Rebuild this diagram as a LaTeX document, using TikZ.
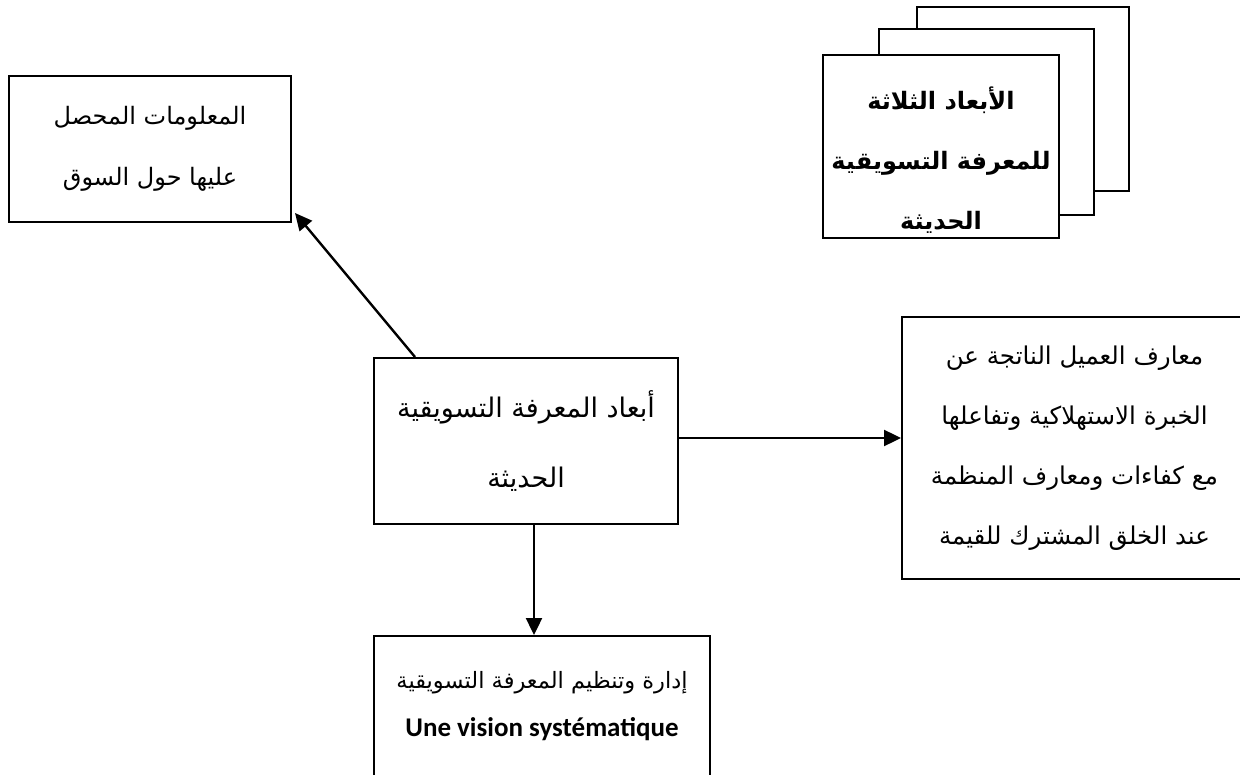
\documentclass[tikz,border=0pt]{standalone}
\usepackage{fontspec}
\setmainfont{Carlito}
\newfontfamily\arabicfont[Script=Arabic]{DejaVu Sans}
\TeXXeTstate=1
\usetikzlibrary{arrows.meta,calc}
% one right-to-left line of Arabic text
\newcommand\rtl[1]{{\arabicfont\beginR #1\endR}}

\begin{document}
\begin{tikzpicture}[x=1pt,y=-1pt,
  box/.style={draw=black, line width=2pt, fill=white, rectangle,
              inner sep=0pt, anchor=north west, align=center},
  lbl/.style={align=center, inner sep=0pt},
  conn/.style={line width=2.4pt, -{Triangle[length=17pt,width=16pt]}}
]
\useasboundingbox (0,0) rectangle (1240,775);

% stacked cards, back to front
\node[box, minimum width=212pt, minimum height=184pt] (s3) at (916,6) {};
\node[box, minimum width=215pt, minimum height=186pt] (s2) at (878,28) {};
\node[box, minimum width=236pt, minimum height=183pt] (s1) at (822,54) {};
\node[lbl, font=\bfseries\fontsize{24}{60}\selectfont] (s1t) at ($(s1.center)+(0,14)$)
  {\rtl{الأبعاد الثلاثة}\\ \rtl{للمعرفة التسويقية}\\ \rtl{الحديثة}};

% market information
\node[box, minimum width=282pt, minimum height=146pt,
      font=\fontsize{24}{61}\selectfont] (tl) at (8,75)
  {\rtl{المعلومات المحصل}\\ \rtl{عليها حول السوق}};

% central box
\node[box, minimum width=304pt, minimum height=166pt,
      font=\fontsize{27}{70}\selectfont] (c) at (373,357)
  {\rtl{أبعاد المعرفة التسويقية}\\ \rtl{الحديثة}};

% customer knowledge
\node[box, minimum width=345pt, minimum height=262pt,
      font=\fontsize{24.5}{60}\selectfont] (r) at (901,316)
  {\rtl{معارف العميل الناتجة عن}\\ \rtl{الخبرة الاستهلاكية وتفاعلها}\\
   \rtl{مع كفاءات ومعارف المنظمة}\\ \rtl{عند الخلق المشترك للقيمة}};

% knowledge management (runs off the bottom edge)
\node[box, minimum width=336pt, minimum height=170pt] (b) at (373,635) {};
\node[lbl, font=\fontsize{22.5}{48}\selectfont] (bt) at ($(b.north)+(0,71)$)
  {\rtl{إدارة وتنظيم المعرفة التسويقية}\\
   {\fontsize{27}{48}\selectfont\bfseries Une vision systématique}};

% connectors
\coordinate (c1) at ($(c.north west)+(42,0)$);
\coordinate (t1) at ($(tl.south east)+(3,-10)$);
\draw[conn] (c1) -- (t1);
\coordinate (c2) at ($(c.east)+(0,-3)$);
\draw[conn] (c2) -- (c2 -| r.west);
\coordinate (c3) at ($(c.south)+(8,0)$);
\draw[conn] (c3) -- (c3 |- b.north);
\end{tikzpicture}
\end{document}
